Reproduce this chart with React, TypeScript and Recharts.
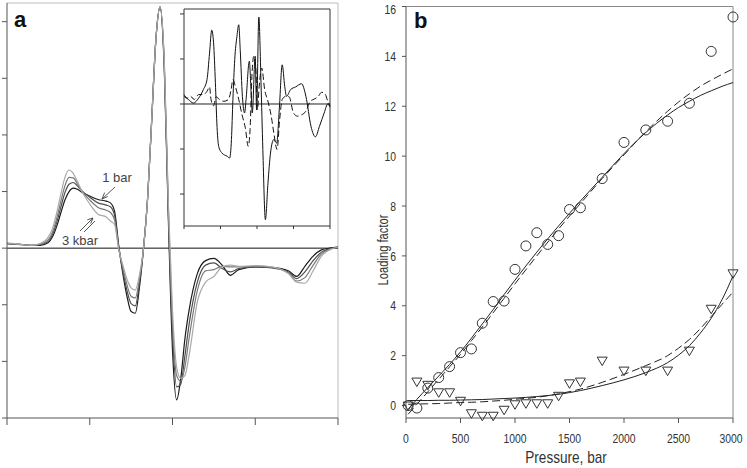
import React from "react";
import {
  ComposedChart,
  Line,
  LineChart,
  ReferenceLine,
  Scatter,
  XAxis,
  YAxis
} from "recharts";

// ---- panel a: spectra at 4 pressures (arbitrary units) ----
const specX = [
  0, 0.1, 0.2, 0.3, 0.4, 0.5, 0.55, 0.6, 0.65, 0.7, 0.75, 0.8, 0.85, 0.9, 1.0, 1.1, 1.2, 1.25,
  1.3, 1.35, 1.4, 1.45, 1.5, 1.55, 1.6, 1.65, 1.7, 1.75, 1.8, 1.85, 1.9, 1.95, 2.0, 2.05, 2.1,
  2.15, 2.2, 2.3, 2.4, 2.5, 2.6, 2.7, 2.8, 3.0, 3.2, 3.4, 3.5, 3.6, 3.7, 3.8, 3.9, 4.0
];
const spec1bar = [
  0.08, 0.07, 0.06, 0.05, 0.05, 0.1, 0.2, 0.38, 0.62, 0.85, 1.0, 1.06, 1.04, 0.99, 0.92, 0.86,
  0.83, 0.8, 0.65, 0.05, -0.45, -0.85, -1.12, -1.15, -0.7, 0.0, 0.9, 2.3, 3.7, 4.26, 3.2, 0.5,
  -1.8, -2.68, -2.3, -1.6, -1.1, -0.45, -0.22, -0.18, -0.3, -0.48, -0.38, -0.33, -0.34, -0.4,
  -0.5, -0.32, -0.14, -0.03, 0.0, 0.02
];
const spec1kbar = [
  0.08, 0.07, 0.06, 0.05, 0.06, 0.12, 0.24, 0.45, 0.72, 0.98, 1.13, 1.16, 1.1, 1.02, 0.9, 0.8,
  0.76, 0.73, 0.58, 0.02, -0.4, -0.75, -0.98, -1.02, -0.62, 0.0, 0.9, 2.3, 3.7, 4.26, 3.25, 0.6,
  -1.5, -2.45, -2.4, -1.9, -1.35, -0.6, -0.3, -0.26, -0.36, -0.42, -0.36, -0.33, -0.35, -0.42,
  -0.54, -0.42, -0.22, -0.07, -0.01, 0.02
];
const spec2kbar = [
  0.09, 0.07, 0.06, 0.05, 0.07, 0.15, 0.28, 0.52, 0.82, 1.1, 1.25, 1.24, 1.14, 1.02, 0.85, 0.72,
  0.67, 0.63, 0.5, 0.0, -0.35, -0.65, -0.85, -0.88, -0.55, 0.0, 0.9, 2.3, 3.7, 4.26, 3.3, 0.7,
  -1.3, -2.25, -2.35, -2.1, -1.6, -0.75, -0.4, -0.38, -0.32, -0.33, -0.33, -0.32, -0.34, -0.44,
  -0.58, -0.52, -0.3, -0.1, -0.02, 0.02
];
const spec3kbar = [
  0.09, 0.08, 0.06, 0.05, 0.08, 0.2, 0.35, 0.62, 0.95, 1.25, 1.38, 1.32, 1.18, 1.02, 0.78, 0.6,
  0.55, 0.48, 0.42, -0.02, -0.3, -0.55, -0.7, -0.74, -0.48, 0.0, 0.9, 2.3, 3.7, 4.26, 3.35, 0.8,
  -1.1, -2.1, -2.3, -2.25, -1.9, -0.95, -0.6, -0.5, -0.33, -0.3, -0.32, -0.31, -0.33, -0.45,
  -0.6, -0.62, -0.4, -0.14, -0.03, 0.02
];
const specTicksX = [0, 1, 2, 3, 4];
const specTicksY = [-3, -2, -1, 0, 1, 2, 3, 4];

// ---- inset: difference spectra ----
const diffSolidX = [
  0, 0.12, 0.26, 0.4, 0.53, 0.63, 0.7, 0.76, 0.81, 0.86, 0.9, 0.95, 1.04, 1.18, 1.25, 1.3, 1.34,
  1.39, 1.45, 1.5, 1.54, 1.6, 1.66, 1.7, 1.79, 1.84, 1.87, 1.95, 1.99, 2.05, 2.11, 2.16, 2.23,
  2.3, 2.37, 2.46, 2.54, 2.61, 2.69, 2.76, 2.81, 2.92, 3.06, 3.22, 3.34, 3.48, 3.6, 3.71, 3.84,
  3.94, 4.0
];
const diffSolidY = [
  0.17, 0.1, 0.02, 0.13, 0.32, 0.54, 1.13, 1.64, 1.36, 0.47, -0.42, -0.94, -1.09, -1.16, -1.2,
  -0.79, 0.1, 0.99, 1.5, 1.76, 1.21, 0.17, -0.2, 0.1, 0.95, 0.24, -0.2, 1.06, -0.13, 1.93, 0.47,
  -1.01, -2.57, -1.76, -1.09, -0.79, -0.87, -0.13, 0.87, 0.39, 0.17, 0.32, 0.38, 0.45, 0.17,
  -0.5, -0.73, -0.5, -0.2, 0.0, -0.07
];
const diffDashX = [
  0, 0.09, 0.18, 0.28, 0.4, 0.53, 0.63, 0.7, 0.74, 0.81, 0.88, 0.97, 1.09, 1.22, 1.29, 1.34,
  1.41, 1.5, 1.59, 1.68, 1.76, 1.81, 1.86, 1.91, 1.97, 2.01, 2.06, 2.13, 2.21, 2.3, 2.39, 2.46,
  2.55, 2.62, 2.69, 2.79, 2.88, 3.0, 3.11, 3.22, 3.34, 3.46, 3.57, 3.68, 3.77, 3.86, 3.94, 4.0
];
const diffDashY = [
  0.21, 0.13, 0.17, 0.1, 0.21, 0.21, 0.28, 0.38, 0.1, -0.04, 0.16, 0.1, 0.06, 0.1, 0.32, 0.54,
  0.38, 0.1, -0.24, -0.53, -0.94, -0.57, 0.61, 1.06, 0.76, -0.13, 0.39, 0.8, 0.32, 0.06, -0.27,
  -0.64, -1.01, -0.35, 0.1, 0.17, 0.16, -0.2, -0.27, -0.24, -0.16, 0.06, 0.11, 0.17, 0.26, 0.23,
  0.06, -0.04
];
const insetTicksY = [-2, -1, 0, 1, 2];

// ---- panel b: loading factor vs pressure ----
const pressure = [
  20, 100, 200, 300, 400, 500, 600, 700, 800, 900, 1000, 1100, 1200, 1300, 1400, 1500, 1600,
  1800, 2000, 2200, 2400, 2600, 2800, 3000
];
const circleLoad = [
  0, -0.1, 0.7, 1.12, 1.56, 2.12, 2.27, 3.3, 4.17, 4.19, 5.46, 6.4, 6.93, 6.46, 6.81, 7.86, 7.93,
  9.1, 10.55, 11.05, 11.4, 12.12, 14.2, 15.58
];
const triangleLoad = [
  0, 0.96, 0.83, 0.53, 0.53, 0.19, -0.31, -0.41, -0.41, -0.17, 0.05, 0.09, 0.09, 0.09, 0.39,
  0.89, 0.96, 1.8, 1.4, 1.4, 1.4, 2.2, 3.88, 5.3
];
const fitP = [
  20, 100, 200, 300, 400, 500, 600, 700, 800, 900, 1000, 1200, 1400, 1600, 1800, 2000, 2200, 2400,
  2500, 2600, 2700, 2800, 2900, 3000
];
const fitCircleSolid = [
  -0.15, 0.25, 0.72, 1.18, 1.65, 2.15, 2.7, 3.27, 3.85, 4.45, 5.03, 6.15, 7.2, 8.2, 9.15, 10.1,
  10.95, 11.65, 11.95, 12.2, 12.43, 12.62, 12.8, 12.95
];
const fitCircleDash = [
  -0.35, 0.05, 0.55, 1.05, 1.55, 2.05, 2.6, 3.15, 3.72, 4.3, 4.88, 6.0, 7.08, 8.1, 9.1, 10.05,
  10.98, 11.8, 12.17, 12.5, 12.8, 13.05, 13.28, 13.5
];
const fitTriSolid = [
  0.2, 0.2, 0.2, 0.21, 0.21, 0.22, 0.23, 0.24, 0.26, 0.28, 0.3, 0.36, 0.45, 0.6, 0.8, 1.03, 1.32,
  1.72, 2.02, 2.4, 2.9, 3.5, 4.25, 5.2
];
const fitTriDash = [
  0.05, 0.06, 0.07, 0.08, 0.1, 0.12, 0.13, 0.15, 0.18, 0.21, 0.25, 0.33, 0.47, 0.66, 0.93, 1.25,
  1.6, 2.0, 2.3, 2.65, 3.08, 3.57, 4.06, 4.55
];
const pressureTicks = [0, 500, 1000, 1500, 2000, 2500, 3000];
const loadTicks = [0, 2, 4, 6, 8, 10, 12, 14, 16];

const specData = specX.map((x, i) => ({
  x,
  a: spec1bar[i],
  b: spec1kbar[i],
  c: spec2kbar[i],
  d: spec3kbar[i]
}));
const pairs = (xs: number[], ys: number[], kx: string, ky: string) =>
  xs.map((x, i) => ({ [kx]: x, [ky]: ys[i] }));

const diffSolid = pairs(diffSolidX, diffSolidY, "x", "y");
const diffDash = pairs(diffDashX, diffDashY, "x", "y");
const circles = pairs(pressure, circleLoad, "p", "v");
const triangles = pairs(pressure, triangleLoad, "p", "v");
const circleSolid = pairs(fitP, fitCircleSolid, "p", "v");
const circleDash = pairs(fitP, fitCircleDash, "p", "v");
const triSolid = pairs(fitP, fitTriSolid, "p", "v");
const triDash = pairs(fitP, fitTriDash, "p", "v");

// no narrow font installed, so squeeze Liberation Sans horizontally
const sans = "'Liberation Sans', Arial, sans-serif";
const SQUEEZE = "scale(0.8,1)";
const blank = () => "";

const XTick = (props: any) => (
  <g transform={`translate(${props.x},${props.y})`}>
    <text transform={SQUEEZE} textAnchor="middle" dy="0.71em" fontFamily={sans} fontSize={13} fill="#333">
      {props.payload.value}
    </text>
  </g>
);
const YTick = (props: any) => (
  <g transform={`translate(${props.x},${props.y})`}>
    <text transform={SQUEEZE} textAnchor="end" dy="0.36em" fontFamily={sans} fontSize={13} fill="#333">
      {props.payload.value}
    </text>
  </g>
);

const OpenCircle = (props: any) => (
  <circle cx={props.cx} cy={props.cy} r={5} fill="none" stroke="#333" strokeWidth={1} />
);
const DownTriangle = (props: any) => {
  const { cx, cy } = props;
  return (
    <path
      d={`M${cx - 5},${cy - 3.5} L${cx + 5},${cy - 3.5} L${cx},${cy + 5} Z`}
      fill="none"
      stroke="#333"
      strokeWidth={1}
    />
  );
};

function PanelA() {
  const shades = ["#1a1a1a", "#4d4d4d", "#7a7a7a", "#a8a8a8"];
  return (
    <LineChart width={345} height={440} data={specData} margin={{ top: 3, right: 7, bottom: 0, left: 0 }}>
      <XAxis
        dataKey="x"
        type="number"
        domain={[0, 4]}
        ticks={specTicksX}
        tickFormatter={blank}
        tickSize={7}
        height={22}
        stroke="#555"
      />
      <YAxis
        type="number"
        domain={[-3, 4.33]}
        ticks={specTicksY}
        tickFormatter={blank}
        tickSize={5}
        width={7}
        stroke="#555"
      />
      <ReferenceLine y={4.33} stroke="#bbb" />
      <ReferenceLine x={4} stroke="#bbb" />
      <ReferenceLine y={0} stroke="#111" />
      {["a", "b", "c", "d"].map((k, i) => (
        <Line
          key={k}
          dataKey={k}
          type="monotone"
          stroke={shades[i]}
          strokeWidth={1.2}
          dot={false}
          activeDot={false}
          isAnimationActive={false}
        />
      ))}
      <text x={14} y={27} fontFamily={sans} fontWeight="bold" fontSize={22} fill="#111">
        a
      </text>
      <text x={117} y={182} textAnchor="middle" fontFamily={sans} fontSize={13} fill="#444">
        1 bar
      </text>
      <text x={80} y={245} textAnchor="middle" fontFamily={sans} fontSize={13} fill="#444">
        3 kbar
      </text>
      <g stroke="#444" strokeWidth={0.9} fill="none">
        <line x1={115} y1={187} x2={102} y2={199} />
        <polyline points="107.8,196.5 102,199 104.6,192.6" />
        <line x1={80} y1={231} x2={93} y2={218} />
        <line x1={84} y1={232} x2={95} y2={221} />
        <polyline points="87.3,219.8 93,218 90.7,223.6" />
      </g>
    </LineChart>
  );
}

function Inset() {
  return (
    <LineChart width={170} height={240} margin={{ top: 9, right: 10, bottom: 0, left: 0 }}>
      <XAxis
        dataKey="x"
        type="number"
        domain={[0, 4]}
        ticks={specTicksX}
        tickFormatter={blank}
        tickSize={3}
        height={14}
        stroke="#333"
      />
      <YAxis
        type="number"
        domain={[-2.71, 2.11]}
        ticks={insetTicksY}
        tickFormatter={blank}
        tickSize={4}
        width={14}
        stroke="#333"
      />
      <ReferenceLine y={2.11} stroke="#333" />
      <ReferenceLine x={4} stroke="#333" />
      <ReferenceLine y={0} stroke="#222" />
      <Line
        data={diffSolid}
        dataKey="y"
        type="monotone"
        stroke="#111"
        strokeWidth={1}
        dot={false}
        activeDot={false}
        isAnimationActive={false}
      />
      <Line
        data={diffDash}
        dataKey="y"
        type="monotone"
        stroke="#111"
        strokeWidth={1}
        strokeDasharray="6 3"
        dot={false}
        activeDot={false}
        isAnimationActive={false}
      />
    </LineChart>
  );
}

function PanelB() {
  const fit = (data: any[], dash?: string) => (
    <Line
      data={data}
      dataKey="v"
      type="monotone"
      stroke="#222"
      strokeWidth={1}
      strokeDasharray={dash}
      dot={false}
      activeDot={false}
      isAnimationActive={false}
    />
  );
  return (
    <ComposedChart width={377} height={468} margin={{ top: 6.5, right: 14, bottom: 6, left: 0 }}>
      <XAxis
        dataKey="p"
        type="number"
        domain={[0, 3000]}
        ticks={pressureTicks}
        tickSize={5}
        tickMargin={11}
        height={44}
        stroke="#555"
        tick={XTick}
      />
      <YAxis
        dataKey="v"
        type="number"
        domain={[-0.5, 16]}
        ticks={loadTicks}
        tickSize={4}
        tickMargin={6}
        width={36}
        stroke="#555"
        tick={YTick}
      />
      <ReferenceLine y={16} stroke="#888" />
      <ReferenceLine x={3000} stroke="#888" />
      {fit(circleSolid)}
      {fit(circleDash, "8 4")}
      {fit(triSolid)}
      {fit(triDash, "8 4")}
      <Scatter data={circles} dataKey="v" shape={OpenCircle} isAnimationActive={false} />
      <Scatter data={triangles} dataKey="v" shape={DownTriangle} isAnimationActive={false} />
      <text x={44} y={28} fontFamily={sans} fontWeight="bold" fontSize={22} fill="#111">
        b
      </text>
      <g transform="translate(18,250) rotate(-90)">
        <text transform={SQUEEZE} textAnchor="middle" fontFamily={sans} fontSize={14} fill="#333">
          Loading factor
        </text>
      </g>
      <g transform="translate(196,463)">
        <text transform="scale(0.85,1)" textAnchor="middle" fontFamily={sans} fontSize={16} fill="#333">
          Pressure, bar
        </text>
      </g>
    </ComposedChart>
  );
}

export default function App() {
  return (
    <div style={{ position: "absolute", left: 0, top: 0, width: 747, height: 468, background: "#fff" }}>
      <div style={{ position: "absolute", left: 0, top: 0 }}>
        <PanelA />
      </div>
      <div style={{ position: "absolute", left: 170, top: 0 }}>
        <Inset />
      </div>
      <div style={{ position: "absolute", left: 370, top: 0 }}>
        <PanelB />
      </div>
    </div>
  );
}
